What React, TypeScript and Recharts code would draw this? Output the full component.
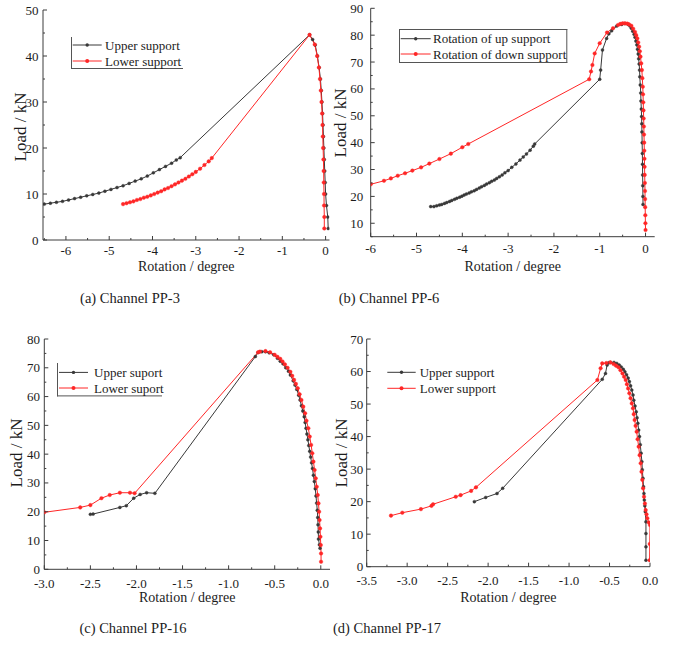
import React from 'react';
import { LineChart, Line, XAxis, YAxis, Legend } from 'recharts';

type Pt = { x: number; y: number };
const pts = (arr: number[][]): Pt[] => arr.map(([x, y]) => ({ x, y }));

// ---------- (a) Channel PP-3 ----------
const upperA = pts([
  [-6.5, 7.8], [-6.36, 8.0], [-6.22, 8.2], [-6.08, 8.4], [-5.94, 8.7], [-5.8, 9.0], [-5.66, 9.3],
  [-5.52, 9.6], [-5.38, 9.9], [-5.24, 10.2], [-5.1, 10.6], [-4.96, 11.0], [-4.82, 11.4], [-4.68, 11.8],
  [-4.54, 12.3], [-4.4, 12.8], [-4.26, 13.3], [-4.12, 13.9], [-3.98, 14.6], [-3.84, 15.3], [-3.7, 16.0],
  [-3.56, 16.7], [-3.45, 17.4], [-3.36, 17.9],
  [-0.37, 44.6], [-0.3, 43.6], [-0.24, 42.4], [-0.19, 40.0], [-0.15, 37.5], [-0.12, 35.0], [-0.1, 32.5],
  [-0.085, 30.0], [-0.07, 27.5], [-0.06, 25.0], [-0.05, 22.5], [-0.04, 20.0], [-0.03, 17.5], [-0.02, 15.0],
  [-0.01, 12.5], [0.0, 10.0], [0.02, 7.5], [0.05, 5.0], [0.06, 2.5],
]);
const lowerA = pts([
  [-4.68, 7.8], [-4.6, 8.0], [-4.52, 8.2], [-4.44, 8.4], [-4.36, 8.7], [-4.28, 8.9], [-4.2, 9.2],
  [-4.12, 9.4], [-4.04, 9.7], [-3.96, 10.0], [-3.88, 10.3], [-3.8, 10.6], [-3.72, 11.0], [-3.64, 11.3],
  [-3.56, 11.7], [-3.48, 12.1], [-3.4, 12.5], [-3.32, 12.9], [-3.24, 13.3], [-3.16, 13.8], [-3.08, 14.3],
  [-3.0, 14.8], [-2.9, 15.5], [-2.8, 16.3], [-2.7, 17.1], [-2.63, 17.8],
  [-0.37, 44.6], [-0.25, 42.5], [-0.195, 40.0], [-0.155, 37.5], [-0.13, 35.0], [-0.11, 32.5], [-0.095, 30.0],
  [-0.08, 27.5], [-0.072, 25.0], [-0.065, 22.5], [-0.058, 20.0], [-0.05, 17.5], [-0.045, 15.0], [-0.042, 12.5],
  [-0.037, 10.0], [-0.035, 7.5], [-0.03, 5.0], [-0.03, 2.5],
]);
const xTicksA = [-6, -5, -4, -3, -2, -1, 0];
const yTicksA = [0, 10, 20, 30, 40, 50];

// ---------- (b) Channel PP-6 ----------
const upB = pts([
  [-4.69, 16.2], [-4.62, 16.2], [-4.56, 16.5], [-4.5, 16.8], [-4.45, 17.0], [-4.39, 17.4], [-4.34, 17.7],
  [-4.28, 18.1], [-4.23, 18.5], [-4.17, 18.9], [-4.12, 19.3], [-4.06, 19.7], [-4.01, 20.1], [-3.96, 20.5],
  [-3.91, 20.9], [-3.85, 21.3], [-3.8, 21.7], [-3.74, 22.1], [-3.69, 22.6], [-3.63, 23.1], [-3.58, 23.6],
  [-3.52, 24.1], [-3.47, 24.6], [-3.41, 25.1], [-3.36, 25.6], [-3.3, 26.1], [-3.25, 26.7], [-3.19, 27.3],
  [-3.13, 28.0], [-3.07, 28.8], [-3.0, 29.6], [-2.92, 30.8], [-2.83, 32.1], [-2.74, 33.5], [-2.67, 34.7],
  [-2.6, 35.8], [-2.52, 37.2], [-2.45, 38.7], [-2.42, 39.5],
  [-1.0, 63.6], [-0.98, 67.0], [-0.94, 74.5], [-0.85, 78.8], [-0.8, 80.5], [-0.74, 81.6], [-0.63, 83.4],
  [-0.52, 84.0], [-0.45, 84.3], [-0.38, 84.0], [-0.34, 83.4], [-0.31, 82.6], [-0.28, 81.5], [-0.25, 80.3],
  [-0.23, 79.2], [-0.21, 77.8], [-0.19, 76.4], [-0.175, 74.8], [-0.16, 73.0], [-0.15, 71.2], [-0.14, 69.3],
  [-0.13, 67.0], [-0.125, 64.5], [-0.115, 61.5], [-0.105, 58.5], [-0.1, 55.5], [-0.092, 52.5], [-0.087, 49.7],
  [-0.082, 47.0], [-0.078, 44.0], [-0.074, 40.0], [-0.07, 36.0], [-0.066, 32.0], [-0.063, 28.0], [-0.06, 24.0],
  [-0.057, 20.0], [-0.055, 17.0],
]);
const downB = pts([
  [-6.0, 24.5], [-5.71, 25.8], [-5.56, 26.7], [-5.41, 27.7], [-5.25, 28.6], [-5.09, 29.6], [-4.9, 30.8],
  [-4.72, 32.2], [-4.5, 33.9], [-4.25, 35.9], [-4.0, 38.3], [-3.87, 39.5],
  [-1.23, 63.6], [-1.19, 66.5], [-1.16, 68.9], [-1.11, 73.2], [-1.0, 77.0], [-0.84, 81.0], [-0.71, 82.6],
  [-0.6, 83.8], [-0.55, 84.2], [-0.5, 84.4], [-0.45, 84.4], [-0.4, 84.3], [-0.36, 84.0], [-0.31, 83.5],
  [-0.27, 82.4], [-0.23, 81.2], [-0.205, 80.0], [-0.18, 78.8], [-0.16, 77.3], [-0.14, 75.7], [-0.125, 74.0],
  [-0.11, 72.0], [-0.095, 69.5], [-0.08, 67.0], [-0.07, 64.0], [-0.06, 60.8], [-0.055, 58.0], [-0.05, 55.0],
  [-0.045, 52.0], [-0.041, 49.0], [-0.037, 46.0], [-0.034, 43.0], [-0.03, 40.0], [-0.027, 37.0], [-0.024, 34.0],
  [-0.021, 31.0], [-0.018, 28.0], [-0.015, 25.0], [-0.012, 22.0], [-0.01, 19.0], [-0.008, 16.0], [-0.005, 13.0],
  [-0.003, 10.0], [0.0, 7.5],
]);
const xTicksB = [-6, -5, -4, -3, -2, -1, 0];
const yTicksB = [10, 20, 30, 40, 50, 60, 70, 80, 90];

// ---------- (c) Channel PP-16 ----------
const upC = pts([
  [-2.5, 19.1], [-2.47, 19.2], [-2.18, 21.5], [-2.11, 22.1], [-2.03, 24.7], [-1.96, 26.0], [-1.89, 26.6],
  [-1.8, 26.4],
  [-0.71, 73.9], [-0.68, 75.3], [-0.64, 75.6], [-0.6, 75.6], [-0.56, 75.2], [-0.51, 74.5], [-0.47, 73.3],
  [-0.44, 72.3], [-0.41, 71.4], [-0.38, 70.0], [-0.35, 68.8], [-0.33, 67.5], [-0.3, 65.5], [-0.28, 64.0],
  [-0.26, 62.5], [-0.24, 60.5], [-0.225, 58.8], [-0.21, 56.8], [-0.195, 55.0], [-0.18, 53.0], [-0.17, 51.0],
  [-0.16, 49.0], [-0.15, 47.0], [-0.14, 45.0], [-0.13, 43.0], [-0.12, 41.0], [-0.11, 39.0], [-0.1, 37.0],
  [-0.09, 35.0], [-0.08, 32.7], [-0.07, 30.5], [-0.06, 28.0], [-0.052, 25.5], [-0.045, 23.0], [-0.038, 20.5],
  [-0.033, 18.0], [-0.03, 15.5], [-0.027, 13.0], [-0.025, 10.5], [-0.015, 8.5], [-0.008, 7.3],
]);
const lowC = pts([
  [-3.0, 19.8], [-2.61, 21.5], [-2.5, 22.3], [-2.38, 24.7], [-2.29, 25.8], [-2.18, 26.6], [-2.07, 26.6],
  [-2.02, 26.4],
  [-0.68, 75.4], [-0.66, 75.6], [-0.6, 75.8], [-0.55, 75.4], [-0.5, 74.5], [-0.47, 73.8], [-0.44, 73.1],
  [-0.415, 72.2], [-0.39, 71.2], [-0.36, 70.0], [-0.33, 68.6], [-0.31, 67.2], [-0.29, 65.8], [-0.27, 64.4],
  [-0.25, 62.9], [-0.23, 60.8], [-0.21, 58.8], [-0.19, 56.5], [-0.17, 54.2], [-0.155, 51.6], [-0.135, 49.0],
  [-0.12, 46.1], [-0.105, 43.2], [-0.092, 40.3], [-0.08, 37.4], [-0.067, 34.5], [-0.055, 31.6], [-0.044, 28.7],
  [-0.033, 25.8], [-0.025, 22.9], [-0.018, 20.0], [-0.013, 17.1], [-0.008, 14.2], [-0.004, 11.3], [0.0, 8.4],
  [0.003, 5.5], [0.003, 2.6],
]);
const xTicksC = [-3.0, -2.5, -2.0, -1.5, -1.0, -0.5, 0.0];
const yTicksC = [0, 10, 20, 30, 40, 50, 60, 70, 80];

// ---------- (d) Channel PP-17 ----------
const upD = pts([
  [-2.17, 20.0], [-2.03, 21.3], [-1.89, 22.5], [-1.82, 24.1],
  [-0.59, 57.6], [-0.55, 59.4], [-0.53, 62.0], [-0.51, 62.7], [-0.49, 62.8], [-0.445, 62.8], [-0.41, 62.5],
  [-0.38, 62.0], [-0.355, 61.4], [-0.33, 60.7], [-0.31, 59.9], [-0.29, 59.0], [-0.27, 58.0], [-0.255, 56.9],
  [-0.24, 55.6], [-0.225, 54.3], [-0.21, 52.8], [-0.2, 51.2], [-0.185, 49.4], [-0.17, 47.6], [-0.16, 45.8],
  [-0.15, 44.1], [-0.14, 42.0], [-0.13, 40.0], [-0.12, 37.5], [-0.11, 34.9], [-0.1, 32.3], [-0.095, 29.8],
  [-0.087, 27.2], [-0.08, 24.6], [-0.075, 22.5], [-0.07, 20.5], [-0.064, 18.7], [-0.058, 16.9], [-0.05, 13.8],
  [-0.05, 10.2], [-0.05, 6.1], [-0.05, 2.0],
]);
const lowD = pts([
  [-3.2, 15.7], [-3.06, 16.6], [-2.83, 17.7], [-2.7, 18.7], [-2.68, 19.2], [-2.4, 21.5], [-2.34, 22.0],
  [-2.21, 23.3], [-2.15, 24.4],
  [-0.65, 57.4], [-0.61, 61.0], [-0.59, 62.5], [-0.54, 62.6], [-0.49, 62.8], [-0.45, 62.3], [-0.42, 61.8],
  [-0.39, 61.3], [-0.365, 60.4], [-0.34, 59.4], [-0.32, 58.4], [-0.3, 57.4], [-0.285, 56.1], [-0.27, 54.8],
  [-0.255, 53.3], [-0.24, 51.8], [-0.225, 50.2], [-0.21, 48.7], [-0.2, 46.9], [-0.19, 45.1], [-0.178, 43.3],
  [-0.165, 41.5], [-0.153, 39.2], [-0.14, 36.9], [-0.128, 34.3], [-0.115, 31.8], [-0.105, 29.2], [-0.095, 26.7],
  [-0.085, 24.1], [-0.074, 21.5], [-0.063, 19.4], [-0.053, 17.4], [-0.043, 16.1], [-0.033, 14.9], [-0.015, 13.6],
  [0.0, 12.8], [-0.003, 7.0], [-0.005, 2.0],
]);
const xTicksD = [-3.5, -3.0, -2.5, -2.0, -1.5, -1.0, -0.5, 0.0];
const yTicksD = [0, 10, 20, 30, 40, 50, 60, 70];

// ---------- styling ----------
const SERIF = '"Liberation Serif", "Times New Roman", Times, serif';
const INK = '#1c1c1c';
const AX = '#3c3c3c';
const BLACK = '#383838';
const RED = '#ff2626';

type Series = { name: string; color: string; data: Pt[]; r: number };
type LegendCfg = {
  l: number; t: number; w: number; h: number; sides: string;
  rows: number[]; x1: number; x2: number; tx: number;
};
type PanelCfg = {
  left: number; top: number; width: number; height: number;
  plot: { l: number; r: number; t: number; b: number };
  xDomain: [number, number]; yDomain: [number, number];
  xMajor: number[]; yMajor: number[]; xMinor: number; yMinor: number;
  digits: number; xGap: number; yGap: number;
  xTitleY: number; yTitle: { x: number; y: number };
  series: Series[]; legend: LegendCfg;
  caption: string; capX: number; capY: number;
};

function allTicks(domain: [number, number], step: number): number[] {
  const out: number[] = [];
  const s = Math.ceil(domain[0] / step - 1e-9);
  const e = Math.floor(domain[1] / step + 1e-9);
  for (let i = s; i <= e; i++) out.push(+(i * step).toFixed(6));
  return out;
}

function tickFn(side: 'bottom' | 'top' | 'left' | 'right', majors: number[], digits: number, gap: number, labels: boolean) {
  return (props: any) => {
    const x = Number(props.x);
    const y = Number(props.y);
    const v = Number(props.payload?.value);
    const major = majors.some((m) => Math.abs(m - v) < 1e-6);
    const len = major ? 4 : 2;
    let x2 = x;
    let y2 = y;
    if (side === 'bottom') y2 = y - len;
    if (side === 'top') y2 = y + len;
    if (side === 'left') x2 = x + len;
    if (side === 'right') x2 = x - len;
    const label = v.toFixed(digits);
    return (
      <g>
        <line x1={x} y1={y} x2={x2} y2={y2} stroke={AX} strokeWidth={1} />
        {labels && major && side === 'bottom' && (
          <text x={x} y={y + gap} textAnchor="middle" dominantBaseline="central" fontFamily={SERIF} fontSize={13} fill={INK}>
            {label}
          </text>
        )}
        {labels && major && side === 'left' && (
          <text x={x - gap} y={y} textAnchor="end" dominantBaseline="central" fontFamily={SERIF} fontSize={13} fill={INK}>
            {label}
          </text>
        )}
      </g>
    );
  };
}

function Panel({ cfg }: { cfg: PanelCfg }) {
  const { left, top, width, height, plot } = cfg;
  const margin = { top: plot.t - top, right: left + width - plot.r, bottom: 0, left: 0 };
  const yAxisW = plot.l - left;
  const xAxisH = top + height - plot.b;
  const xt = allTicks(cfg.xDomain, cfg.xMinor);
  const yt = allTicks(cfg.yDomain, cfg.yMinor);
  const lg = cfg.legend;
  const cx = (plot.l + plot.r) / 2 - left;

  const legendContent = () => (
    <div style={{ position: 'relative', width: lg.w, height: lg.h }}>
      <svg width={lg.w} height={lg.h} style={{ position: 'absolute', left: 0, top: 0, overflow: 'visible' }}>
        {(lg.sides.includes('t')) && <line x1={0} y1={0.5} x2={lg.w} y2={0.5} stroke="#555" strokeWidth={1} />}
        {(lg.sides.includes('b')) && <line x1={0} y1={lg.h - 0.5} x2={lg.w} y2={lg.h - 0.5} stroke="#555" strokeWidth={1} />}
        {(lg.sides.includes('l')) && <line x1={0.5} y1={0} x2={0.5} y2={lg.h} stroke="#555" strokeWidth={1} />}
        {(lg.sides.includes('r')) && <line x1={lg.w - 0.5} y1={0} x2={lg.w - 0.5} y2={lg.h} stroke="#555" strokeWidth={1} />}
        {cfg.series.map((s, i) => {
          const yy = lg.rows[i] - lg.t;
          const a = lg.x1 - lg.l;
          const b = lg.x2 - lg.l;
          return (
            <g key={s.name}>
              <line x1={a} y1={yy} x2={b} y2={yy} stroke={s.color} strokeWidth={1} />
              <circle cx={(a + b) / 2} cy={yy} r={s.r + 0.2} fill={s.color} />
              <text x={lg.tx - lg.l} y={yy} dominantBaseline="central" fontFamily={SERIF} fontSize={13} fill={INK}>
                {s.name}
              </text>
            </g>
          );
        })}
      </svg>
    </div>
  );

  const common = { type: 'number' as const, allowDataOverflow: true, interval: 0 as const, tickLine: false, tickSize: 0, tickMargin: 0 };

  return (
    <>
      <div style={{ position: 'absolute', left, top, width, height }}>
        <LineChart width={width} height={height} margin={margin}>
          <XAxis
            xAxisId="b" dataKey="x" orientation="bottom" domain={cfg.xDomain} ticks={xt} height={xAxisH}
            axisLine={{ stroke: AX }} tick={tickFn('bottom', cfg.xMajor, cfg.digits, cfg.xGap, true)}
            label={{
              content: () => (
                <text x={cx} y={cfg.xTitleY - top} textAnchor="middle" dominantBaseline="central" fontFamily={SERIF} fontSize={14} fill={INK}>
                  Rotation / degree
                </text>
              ),
            }}
            {...common}
          />
          <XAxis
            xAxisId="t" dataKey="x" orientation="top" domain={cfg.xDomain} ticks={xt} height={0}
            axisLine={{ stroke: AX }} tick={tickFn('top', cfg.xMajor, cfg.digits, 0, false)} {...common}
          />
          <YAxis
            yAxisId="l" orientation="left" domain={cfg.yDomain} ticks={yt} width={yAxisW}
            axisLine={{ stroke: AX }} tick={tickFn('left', cfg.yMajor, 0, cfg.yGap, true)}
            label={{
              content: () => {
                const x = cfg.yTitle.x - left;
                const y = cfg.yTitle.y - top;
                return (
                  <text x={x} y={y} transform={`rotate(-90 ${x} ${y})`} textAnchor="middle" dominantBaseline="central" fontFamily={SERIF} fontSize={17} fill={INK}>
                    Load / kN
                  </text>
                );
              },
            }}
            {...common}
          />
          <YAxis
            yAxisId="r" orientation="right" domain={cfg.yDomain} ticks={yt} width={0}
            axisLine={{ stroke: AX }} tick={tickFn('right', cfg.yMajor, 0, 0, false)} {...common}
          />
          {cfg.series.map((s) => (
            <Line
              key={s.name}
              name={s.name}
              data={s.data}
              dataKey="y"
              xAxisId="b"
              yAxisId="l"
              type="linear"
              stroke={s.color}
              strokeWidth={1}
              dot={{ r: s.r, fill: s.color, stroke: s.color, strokeWidth: 0.4 }}
              activeDot={false}
              isAnimationActive={false}
            />
          ))}
          <Legend
            layout="horizontal"
            verticalAlign="middle"
            align="center"
            wrapperStyle={{ left: lg.l - left, top: lg.t - top, width: lg.w, height: lg.h, margin: 0, padding: 0 }}
            content={legendContent}
          />
        </LineChart>
      </div>
      <div
        style={{
          position: 'absolute', left: cfg.capX, top: cfg.capY, transform: 'translate(-50%, -50%)',
          fontFamily: SERIF, fontSize: 14.5, color: INK, whiteSpace: 'nowrap', lineHeight: 1,
        }}
      >
        {cfg.caption}
      </div>
    </>
  );
}

const panels: PanelCfg[] = [
  {
    left: 0, top: 0, width: 337, height: 275,
    plot: { l: 43, r: 329.5, t: 10, b: 240 },
    xDomain: [-6.53, 0.09], yDomain: [0, 50], xMajor: xTicksA, yMajor: yTicksA, xMinor: 0.5, yMinor: 5,
    digits: 0, xGap: 10, yGap: 4.5, xTitleY: 266.7, yTitle: { x: 20, y: 127 },
    series: [
      { name: 'Upper support', color: BLACK, data: upperA, r: 1.5 },
      { name: 'Lower support', color: RED, data: lowerA, r: 1.8 },
    ],
    legend: { l: 71, t: 37, w: 112, h: 32, sides: 'lb', rows: [45, 61], x1: 72.7, x2: 101.7, tx: 105 },
    caption: '(a) Channel PP-3', capX: 130, capY: 297.5,
  },
  {
    left: 326, top: 0, width: 348, height: 275,
    plot: { l: 370.7, r: 654.7, t: 8.3, b: 236.7 },
    xDomain: [-6, 0.2], yDomain: [5, 90], xMajor: xTicksB, yMajor: yTicksB, xMinor: 0.5, yMinor: 5,
    digits: 0, xGap: 11.6, yGap: 7.4, xTitleY: 266, yTitle: { x: 340.7, y: 123 },
    series: [
      { name: 'Rotation of up support', color: BLACK, data: upB, r: 1.5 },
      { name: 'Rotation of down support', color: RED, data: downB, r: 1.8 },
    ],
    legend: { l: 399, t: 29.3, w: 168.3, h: 34, sides: 'tblr', rows: [39, 54.3], x1: 400.7, x2: 430.7, tx: 433 },
    caption: '(b) Channel PP-6', capX: 389, capY: 297.5,
  },
  {
    left: 0, top: 325, width: 337, height: 285,
    plot: { l: 44.3, r: 330, t: 339, b: 569.3 },
    xDomain: [-3, 0.1], yDomain: [0, 80], xMajor: xTicksC, yMajor: yTicksC, xMinor: 0.25, yMinor: 5,
    digits: 1, xGap: 14, yGap: 4.3, xTitleY: 597.5, yTitle: { x: 16.7, y: 453 },
    series: [
      { name: 'Upper suport', color: BLACK, data: upC, r: 1.5 },
      { name: 'Lower suport', color: RED, data: lowC, r: 1.8 },
    ],
    legend: { l: 57.3, t: 363.3, w: 105, h: 33.4, sides: 'lb', rows: [372.7, 388.3], x1: 59.3, x2: 88.3, tx: 94.3 },
    caption: '(c) Channel PP-16', capX: 133, capY: 627.5,
  },
  {
    left: 326, top: 325, width: 348, height: 285,
    plot: { l: 366.7, r: 650, t: 339, b: 566.7 },
    xDomain: [-3.5, 0], yDomain: [0, 70], xMajor: xTicksD, yMajor: yTicksD, xMinor: 0.25, yMinor: 5,
    digits: 1, xGap: 14, yGap: 3.5, xTitleY: 597, yTitle: { x: 341.3, y: 453 },
    series: [
      { name: 'Upper support', color: BLACK, data: upD, r: 1.5 },
      { name: 'Lower support', color: RED, data: lowD, r: 1.8 },
    ],
    legend: { l: 386, t: 364, w: 92, h: 32, sides: '', rows: [372.3, 388.3], x1: 387.3, x2: 415.7, tx: 419.7 },
    caption: '(d) Channel PP-17', capX: 387, capY: 627.5,
  },
];

export default function App() {
  return (
    <div style={{ position: 'absolute', left: 0, top: 0, width: 674, height: 652, background: '#ffffff', overflow: 'hidden' }}>
      {panels.map((p) => (
        <Panel key={p.caption} cfg={p} />
      ))}
    </div>
  );
}
